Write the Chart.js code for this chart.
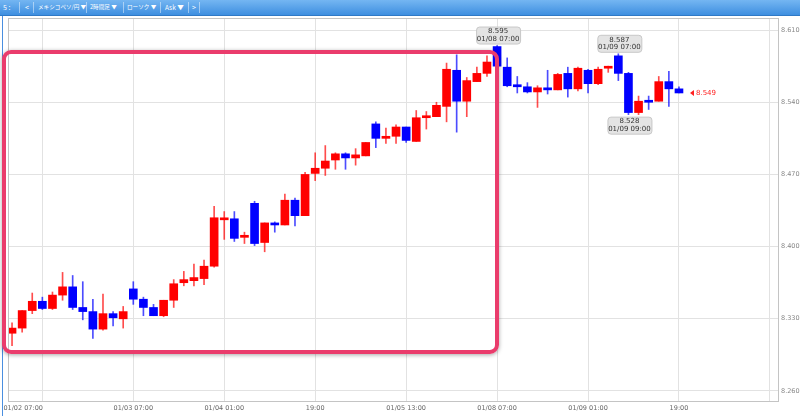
<!DOCTYPE html>
<html>
<head>
<meta charset="utf-8">
<script src="https://cdn.jsdelivr.net/npm/chart.js@4/dist/chart.umd.min.js"></script>
<style>
    html, body { margin: 0; padding: 0; background: #fff; }
    #wrap { position: relative; width: 800px; height: 416px; overflow: hidden; }
    #chart { position: absolute; left: 0; top: 0; }
    #bar {
        position: absolute; left: 0; top: 0; width: 800px; height: 15px;
        background: linear-gradient(#74b6f2, #3f8fe0);
        border-bottom: 1px solid #2f79c6;
        font-family: "Noto Sans CJK JP", "DejaVu Sans", sans-serif;
        font-size: 5.6px; color: #fff; line-height: 15px;
    }
    #bar span { position: absolute; top: 0; white-space: nowrap; }
    #bar i { position: absolute; top: 2px; width: 1px; height: 11px; background: rgba(255,255,255,0.45); }
    #leftline { position: absolute; left: 2px; top: 16px; width: 1px; height: 400px; background: #4a8fe0; }
    #box {
        position: absolute; left: 2px; top: 50px; width: 497px; height: 304px;
        box-sizing: border-box; border: 4px solid #ea3c6c; border-radius: 9px;
        box-shadow: 0 1px 4px rgba(0,0,0,0.35);
    }
</style>
</head>
<body>
<div id="wrap">
    <canvas id="chart" width="800" height="416"></canvas>
    <div id="leftline"></div>
    <div id="bar">
        <span style="left:3px;font-size:7px">5 :</span><i style="left:19px"></i>
        <span style="left:25px;font-size:7px">&lt;</span><i style="left:33px"></i>
        <span style="left:38px">メキシコペソ/円 ▼</span><i style="left:86px"></i>
        <span style="left:90px">2時間足 ▼</span><i style="left:123px"></i>
        <span style="left:127px">ローソク ▼</span><i style="left:160px"></i>
        <span style="left:165px;font-size:6.5px">Ask ▼</span><i style="left:188px"></i>
        <span style="left:192px;font-size:7px">&gt;</span><i style="left:199px"></i>
    </div>
    <div id="box"></div>
</div>
<script>
// MXN/JPY 2h candles, 01/02 07:00 .. 01/09 19:00
const opens = [8.316, 8.321, 8.338, 8.347, 8.340, 8.353, 8.361, 8.341, 8.337, 8.320,
    8.335, 8.330, 8.359, 8.349, 8.341, 8.333, 8.348, 8.365, 8.367, 8.369,
    8.381, 8.426, 8.427, 8.409, 8.442, 8.404, 8.423, 8.421, 8.445, 8.430,
    8.471, 8.476, 8.484, 8.490, 8.486, 8.488, 8.519, 8.505, 8.507, 8.516,
    8.502, 8.525, 8.526, 8.536, 8.571, 8.541, 8.560, 8.568, 8.594, 8.574,
    8.557, 8.555, 8.550, 8.554, 8.552, 8.568, 8.553, 8.571, 8.558, 8.573,
    8.585, 8.568, 8.530, 8.541, 8.541, 8.560, 8.553];
const highs = [8.326, 8.338, 8.355, 8.351, 8.356, 8.375, 8.372, 8.366, 8.349, 8.354,
    8.337, 8.342, 8.366, 8.351, 8.344, 8.348, 8.368, 8.376, 8.383, 8.387,
    8.439, 8.434, 8.434, 8.414, 8.444, 8.423, 8.424, 8.451, 8.447, 8.472,
    8.491, 8.498, 8.491, 8.491, 8.495, 8.501, 8.521, 8.515, 8.518, 8.516,
    8.532, 8.531, 8.540, 8.578, 8.586, 8.564, 8.574, 8.585, 8.595, 8.583,
    8.565, 8.559, 8.556, 8.571, 8.568, 8.574, 8.574, 8.572, 8.574, 8.575,
    8.587, 8.569, 8.546, 8.546, 8.565, 8.570, 8.555];
const lows = [8.304, 8.317, 8.335, 8.339, 8.339, 8.348, 8.339, 8.329, 8.311, 8.319,
    8.323, 8.321, 8.344, 8.333, 8.333, 8.332, 8.341, 8.362, 8.362, 8.363,
    8.380, 8.407, 8.405, 8.403, 8.401, 8.395, 8.414, 8.421, 8.420, 8.430,
    8.464, 8.469, 8.475, 8.475, 8.479, 8.488, 8.496, 8.500, 8.500, 8.501,
    8.502, 8.514, 8.526, 8.521, 8.511, 8.526, 8.560, 8.565, 8.575, 8.555,
    8.549, 8.549, 8.535, 8.548, 8.552, 8.545, 8.551, 8.549, 8.557, 8.569,
    8.561, 8.528, 8.528, 8.533, 8.541, 8.536, 8.549];
const closes = [8.321, 8.338, 8.347, 8.340, 8.353, 8.361, 8.341, 8.337, 8.320, 8.335,
    8.331, 8.337, 8.349, 8.341, 8.333, 8.348, 8.364, 8.368, 8.370, 8.381,
    8.428, 8.427, 8.408, 8.411, 8.403, 8.423, 8.421, 8.445, 8.430, 8.470,
    8.476, 8.483, 8.490, 8.486, 8.489, 8.501, 8.505, 8.507, 8.516, 8.503,
    8.525, 8.526, 8.537, 8.572, 8.541, 8.561, 8.568, 8.579, 8.575, 8.556,
    8.555, 8.550, 8.554, 8.552, 8.567, 8.553, 8.573, 8.558, 8.572, 8.574,
    8.568, 8.530, 8.541, 8.540, 8.560, 8.553, 8.549];

// price axis labels
const yTicks = [8.260, 8.330, 8.400, 8.470, 8.540, 8.610];
// time axis: candle index of each gridline and its label
const xGridIdx = [3, 12, 21, 30, 39, 48, 57, 66, 75];
const xGridLabels = ['', '01/03 07:00', '01/04 01:00', '19:00', '01/05 13:00', '01/08 07:00', '01/09 01:00', '19:00', ''];
const firstLabel = '01/02 07:00';
const firstLabelPos = 1.1;

// high/low callouts
const noteIdx = [48, 60, 61];
const noteSide = ['high', 'high', 'low'];
const noteTimes = ['01/08 07:00', '01/09 07:00', '01/09 09:00'];

const UP = '#ff0000', DOWN = '#0000ff';
const UP_WICK = 'rgba(255, 0, 0, 0.7)', DOWN_WICK = 'rgba(0, 0, 255, 0.7)';
const isUp = (i) => closes[i] >= opens[i] && !(i === 63);

const idx = opens.map((_, i) => i);

const calloutPlugin = {
    id: 'callouts',
    afterDatasetsDraw(chart) {
        const { ctx, scales } = chart;
        const xs = scales.x, ys = scales.y;
        ctx.save();
        ctx.font = '7px "DejaVu Sans"';
        ctx.textAlign = 'center';
        ctx.textBaseline = 'middle';
        noteIdx.forEach((i, k) => {
            const val = noteSide[k] === 'high' ? highs[i] : lows[i];
            const cx = xs.getPixelForValue(i) + 1;
            const py = ys.getPixelForValue(val);
            const w = 44, h = 17;
            const top = noteSide[k] === 'high' ? py - 2 - h : py + 2;
            ctx.fillStyle = '#e4e4e4';
            ctx.strokeStyle = '#c8c8c8';
            ctx.lineWidth = 1;
            ctx.beginPath();
            ctx.roundRect(cx - w / 2 + 0.5, top + 0.5, w, h, 3);
            ctx.fill();
            ctx.stroke();
            ctx.fillStyle = '#333';
            ctx.fillText(val.toFixed(3), cx, top + 5);
            ctx.fillText(noteTimes[k], cx, top + 12.5);
        });

        // last price marker
        const last = closes.length - 1;
        const lx = xs.getPixelForValue(last) + 11;
        const ly = ys.getPixelForValue(closes[last]);
        ctx.fillStyle = '#ff2020';
        ctx.beginPath();
        ctx.moveTo(lx, ly);
        ctx.lineTo(lx + 4, ly - 3);
        ctx.lineTo(lx + 4, ly + 3);
        ctx.closePath();
        ctx.fill();
        ctx.textAlign = 'left';
        ctx.fillText(closes[last].toFixed(3), lx + 6, ly + 0.5);

        // plot frame
        const a = chart.chartArea;
        ctx.strokeStyle = '#c4c4c4';
        ctx.strokeRect(a.left + 0.5, a.top + 0.5, a.right - a.left, a.bottom - a.top);
        ctx.restore();
    }
};

new Chart(document.getElementById('chart'), {
    type: 'bar',
    data: {
        datasets: [{
            label: 'body',
            data: idx.map(i => ({ x: i, y: [opens[i], closes[i]] })),
            backgroundColor: (c) => isUp(c.dataIndex) ? UP : DOWN,
            barThickness: 8,
            minBarLength: 2,
            grouped: false,
            order: 0
        }, {
            label: 'wick',
            data: idx.map(i => ({ x: i, y: [lows[i], highs[i]] })),
            backgroundColor: (c) => isUp(c.dataIndex) ? UP_WICK : DOWN_WICK,
            barThickness: 1,
            grouped: false,
            order: 1
        }]
    },
    options: {
        responsive: false,
        animation: false,
        layout: { padding: { left: 8, top: 18, right: 0, bottom: 0 } },
        plugins: {
            legend: { display: false },
            tooltip: { enabled: false }
        },
        scales: {
            x: {
                type: 'linear',
                offset: false,
                min: -0.4,
                max: 75.8,
                afterFit: (s) => { s.height = 15; s.paddingLeft = 0; s.paddingRight = 0; },
                afterBuildTicks: (s) => {
                    s.ticks = [firstLabelPos].concat(xGridIdx).map(v => ({ value: v }));
                },
                ticks: {
                    autoSkip: false,
                    maxRotation: 0,
                    padding: 3,
                    color: '#666',
                    font: { family: 'DejaVu Sans', size: 6.5 },
                    callback: (v) => v === firstLabelPos ? firstLabel : xGridLabels[xGridIdx.indexOf(v)]
                },
                grid: {
                    offset: false,
                    color: (c) => c.tick && c.tick.value === firstLabelPos ? 'rgba(0,0,0,0)' : '#e2e2e2',
                    drawTicks: false
                },
                border: { color: '#b8b8b8' }
            },
            y: {
                position: 'right',
                min: 8.2503,
                max: 8.6217,
                afterFit: (s) => { s.width = 22; s.paddingTop = 0; s.paddingBottom = 0; },
                afterBuildTicks: (s) => { s.ticks = yTicks.map(v => ({ value: v })); },
                ticks: {
                    padding: 2,
                    color: '#888',
                    font: { family: 'DejaVu Sans', size: 6.5 },
                    callback: (v) => v.toFixed(3)
                },
                grid: { color: '#e2e2e2', tickLength: 1 },
                border: { color: '#999' }
            }
        }
    },
    plugins: [calloutPlugin]
});
</script>
</body>
</html>
